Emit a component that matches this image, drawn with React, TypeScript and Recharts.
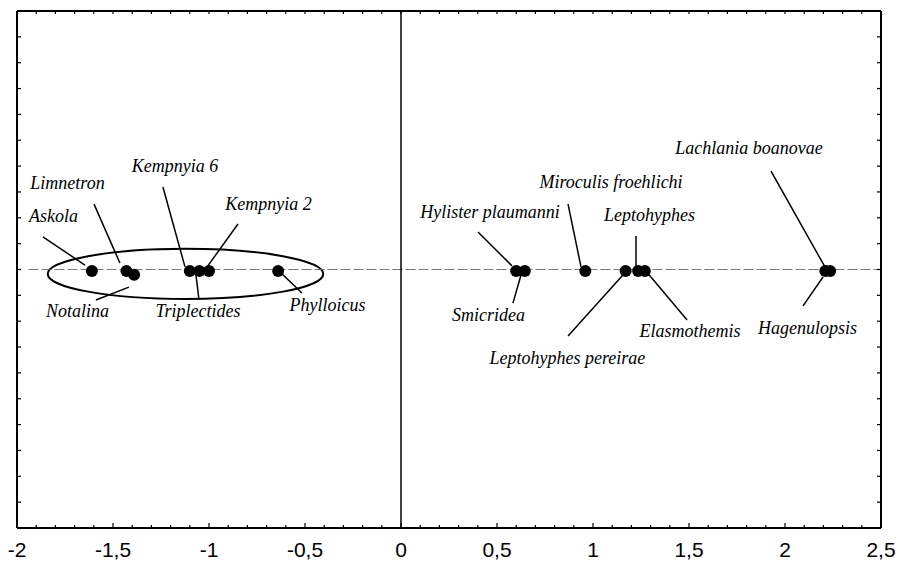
import React from "react"
import {
  ScatterChart,
  Scatter,
  XAxis,
  YAxis,
  ReferenceLine,
  ReferenceArea,
  ReferenceDot,
} from "recharts"

// taxa and their scores on the first axis (y is ~0 for all)
const taxa = [
  "Askola",
  "Limnetron",
  "Notalina",
  "Kempnyia 6",
  "Triplectides",
  "Kempnyia  2",
  "Phylloicus",
  "Hylister plaumanni",
  "Smicridea",
  "Miroculis froehlichi",
  "Leptohyphes pereirae",
  "Leptohyphes",
  "Elasmothemis",
  "Lachlania boanovae",
  "Hagenulopsis",
]
const xScores = [-1.61, -1.43, -1.39, -1.1, -1.05, -1.0, -0.64, 0.6, 0.645, 0.96, 1.17, 1.235, 1.27, 2.21, 2.235]
const yScores = [-0.006, -0.006, -0.02, -0.006, -0.006, -0.006, -0.006, -0.006, -0.006, -0.006, -0.006, -0.006, -0.006, -0.006, -0.006]

const xMajorTicks = [-2, -1.5, -1, -0.5, 0, 0.5, 1, 1.5, 2, 2.5]
const xTickLabels = ["-2", "-1,5", "-1", "-0,5", "0", "0,5", "1", "1,5", "2", "2,5"]

// minor ticks every 0.1
const xMinorTicks = Array.from({ length: 46 }, (_, i) => Math.round((-2 + i * 0.1) * 10) / 10)
const yTicks = Array.from({ length: 21 }, (_, i) => Math.round((-1 + i * 0.1) * 10) / 10)

// label placement (text centre) and leader lines, in data units
const labelPos: [number, number][] = [
  [-1.81, 0.207],
  [-1.737, 0.335],
  [-1.685, -0.161],
  [-1.177, 0.4],
  [-1.057, -0.161],
  [-0.69, 0.253],
  [-0.383, -0.137],
  [0.464, 0.222],
  [0.456, -0.176],
  [1.094, 0.338],
  [0.867, -0.342],
  [1.294, 0.211],
  [1.505, -0.237],
  [1.8125, 0.47],
  [2.117, -0.226],
]
const leaders: [number, number, number, number][] = [
  [-1.865, 0.126, -1.646, 0.017],
  [-1.599, 0.253, -1.464, 0.025],
  [-1.589, -0.118, -1.417, -0.068],
  [-1.24, 0.319, -1.125, 0.01],
  [-1.052, -0.118, -1.068, -0.021],
  [-0.849, 0.176, -1.01, 0.01],
  [-0.641, -0.002, -0.516, -0.091],
  [0.401, 0.145, 0.578, 0.014],
  [0.625, -0.021, 0.583, -0.13],
  [0.87, 0.253, 0.9375, 0.01],
  [0.87, -0.257, 1.156, -0.021],
  [1.224, 0.13, 1.224, 0.01],
  [1.271, -0.002, 1.49, -0.195],
  [1.927, 0.381, 2.208, 0.01],
  [2.198, -0.029, 2.094, -0.141],
]

const points = taxa.map((name, i) => ({ name, x: xScores[i], y: yScores[i] }))

const near = (a: number, b: number) => Math.abs(a - b) < 1e-6

const BottomTick = (props: any) => {
  const { x, y, payload } = props
  const idx = xMajorTicks.findIndex((v) => near(v, payload.value))
  const major = idx >= 0
  return (
    <g>
      <line x1={x} y1={y} x2={x} y2={y - (major ? 5 : 3)} stroke="#000" strokeWidth={1.2} />
      {major && (
        <text x={x} y={y + 29} textAnchor="middle" fontFamily="'Liberation Sans', Arial, sans-serif" fontSize={21} fill="#000">
          {xTickLabels[idx]}
        </text>
      )}
    </g>
  )
}

const TopTick = (props: any) => {
  const { x, y } = props
  return <line x1={x} y1={y} x2={x} y2={y + 3} stroke="#000" strokeWidth={1.2} />
}

const LeftTick = (props: any) => {
  const { x, y } = props
  return <line x1={x} y1={y} x2={x + 4} y2={y} stroke="#000" strokeWidth={1.2} />
}

const RightTick = (props: any) => {
  const { x, y } = props
  return <line x1={x} y1={y} x2={x - 4} y2={y} stroke="#000" strokeWidth={1.2} />
}

const Dot = (props: any) => <circle cx={props.cx} cy={props.cy} r={6} fill="#000" />
const NoDot = () => <g />

export default function App() {
  return (
    <div style={{ position: "absolute", left: 0, top: 0, background: "#fff" }}>
      <ScatterChart width={900} height={561} margin={{ top: 10, right: 18, bottom: 0, left: 16 }}>
        <XAxis
          xAxisId="b"
          type="number"
          dataKey="x"
          domain={[-2, 2.5]}
          ticks={xMinorTicks}
          interval={0}
          height={33}
          tickSize={0}
          tickMargin={0}
          tickLine={false}
          tick={<BottomTick />}
          axisLine={{ stroke: "#000", strokeWidth: 2 }}
          allowDataOverflow
        />
        <XAxis
          xAxisId="t"
          orientation="top"
          type="number"
          dataKey="x"
          domain={[-2, 2.5]}
          ticks={xMinorTicks}
          interval={0}
          height={1}
          tickSize={0}
          tickMargin={0}
          tickLine={false}
          tick={<TopTick />}
          axisLine={{ stroke: "#000", strokeWidth: 2 }}
          allowDataOverflow
        />
        <YAxis
          yAxisId="l"
          type="number"
          dataKey="y"
          domain={[-1, 1]}
          ticks={yTicks}
          interval={0}
          width={1}
          tickSize={0}
          tickMargin={0}
          tickLine={false}
          tick={<LeftTick />}
          axisLine={{ stroke: "#000", strokeWidth: 2 }}
          allowDataOverflow
        />
        <YAxis
          yAxisId="r"
          orientation="right"
          type="number"
          dataKey="y"
          domain={[-1, 1]}
          ticks={yTicks}
          interval={0}
          width={1}
          tickSize={0}
          tickMargin={0}
          tickLine={false}
          tick={<RightTick />}
          axisLine={{ stroke: "#000", strokeWidth: 2 }}
          allowDataOverflow
        />

        <ReferenceLine
          xAxisId="b"
          yAxisId="l"
          segment={[{ x: -1.94, y: 0 }, { x: 2.5, y: 0 }]}
          stroke="#555"
          strokeWidth={0.8}
          strokeDasharray="10 3"
        />
        <ReferenceLine xAxisId="b" yAxisId="l" x={0} stroke="#000" strokeWidth={1.5} />

        <ReferenceArea
          xAxisId="b"
          yAxisId="l"
          x1={-1.84}
          x2={-0.405}
          y1={-0.114}
          y2={0.08}
          shape={(p: any) => (
            <ellipse
              cx={p.x + p.width / 2}
              cy={p.y + p.height / 2}
              rx={p.width / 2}
              ry={p.height / 2}
              fill="none"
              stroke="#000"
              strokeWidth={2}
            />
          )}
        />

        {leaders.map(([x1, y1, x2, y2], i) => (
          <ReferenceLine
            key={"ld" + i}
            xAxisId="b"
            yAxisId="l"
            segment={[{ x: x1, y: y1 }, { x: x2, y: y2 }]}
            stroke="#000"
            strokeWidth={1.5}
          />
        ))}

        {/* invisible copy so the frame axes (top/right) get drawn */}
        <Scatter xAxisId="t" yAxisId="r" data={points} shape={<NoDot />} isAnimationActive={false} />
        <Scatter xAxisId="b" yAxisId="l" data={points} shape={<Dot />} isAnimationActive={false} />

        {taxa.map((name, i) => (
          <ReferenceDot
            key={"lb" + i}
            xAxisId="b"
            yAxisId="l"
            x={labelPos[i][0]}
            y={labelPos[i][1]}
            r={0}
            shape={(p: any) => (
              <text
                x={p.cx}
                y={p.cy}
                textAnchor="middle"
                dominantBaseline="central"
                fontFamily="'Liberation Serif', 'Times New Roman', serif"
                fontStyle="italic"
                fontSize={18}
                fill="#000"
              >
                {name}
              </text>
            )}
          />
        ))}
      </ScatterChart>
    </div>
  )
}
